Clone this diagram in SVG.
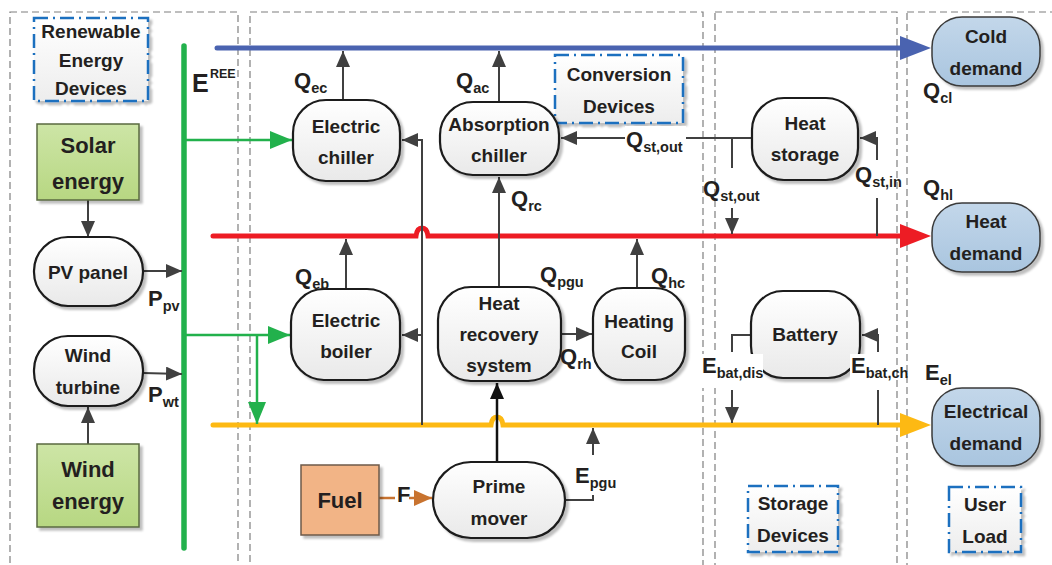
<svg xmlns="http://www.w3.org/2000/svg" width="1052" height="565" viewBox="0 0 1052 565">
<defs>
<linearGradient id="gNode" x1="0" y1="0" x2="0" y2="1"><stop offset="0" stop-color="#ffffff"/><stop offset="1" stop-color="#e9e9e9"/></linearGradient>
<linearGradient id="gDem" x1="0" y1="0" x2="0" y2="1"><stop offset="0" stop-color="#c3d7ea"/><stop offset="1" stop-color="#a9c5df"/></linearGradient>
<linearGradient id="gGreen" x1="0" y1="0" x2="0" y2="1"><stop offset="0" stop-color="#cde5a6"/><stop offset="1" stop-color="#b7d782"/></linearGradient>
<linearGradient id="gLbl" x1="0" y1="0" x2="0" y2="1"><stop offset="0" stop-color="#ffffff"/><stop offset="1" stop-color="#ededed"/></linearGradient>
<filter id="sh" x="-10%" y="-10%" width="130%" height="130%"><feDropShadow dx="3" dy="3" stdDeviation="1.2" flood-color="#000" flood-opacity="0.25"/></filter>
<marker id="aG" markerUnits="userSpaceOnUse" markerWidth="16" markerHeight="14" refX="16" refY="7" orient="auto"><path d="M0,0 L16,7 L0,14 z" fill="#404040"/></marker>
<marker id="aK" markerUnits="userSpaceOnUse" markerWidth="16" markerHeight="14" refX="16" refY="7" orient="auto"><path d="M0,0 L16,7 L0,14 z" fill="#111"/></marker>
<marker id="aGr" markerUnits="userSpaceOnUse" markerWidth="22" markerHeight="18" refX="22" refY="9" orient="auto"><path d="M0,0 L22,9 L0,18 z" fill="#22b14c"/></marker>
<marker id="aO" markerUnits="userSpaceOnUse" markerWidth="18" markerHeight="16" refX="18" refY="8" orient="auto"><path d="M0,0 L18,8 L0,16 z" fill="#c8732f"/></marker>
</defs>
<style>
.reg{fill:none;stroke:#7f7f7f;stroke-width:1.2;stroke-dasharray:7 4}
.lb{fill:url(#gLbl);stroke:#1f6fbf;stroke-width:2.5;stroke-dasharray:14 5 2 5;filter:url(#sh)}
.nd{fill:url(#gNode);stroke:#1a1a1a;stroke-width:2.2;filter:url(#sh)}
.dm{fill:url(#gDem);stroke:#3a3a3a;stroke-width:1.5;filter:url(#sh)}
.gb{fill:url(#gGreen);stroke:#5a6a40;stroke-width:1.5;filter:url(#sh)}
.fu{fill:#f2b486;stroke:#6d5a4a;stroke-width:1.5;filter:url(#sh)}
.wb{fill:#ffffff}
text{font-family:"Liberation Sans",Arial,sans-serif;font-weight:bold;fill:#231f20}
.t{font-size:19px;text-anchor:middle}
.tb{font-size:22px;text-anchor:middle}
.q{font-size:22px}
.s{font-size:14.5px}
.ln{fill:none;stroke:#404040;stroke-width:2}
.gl{fill:none;stroke:#22b14c;stroke-width:2.5}
</style>

<g id="regions">
<rect class="reg" x="10" y="12" width="228" height="570"/>
<rect class="reg" x="250" y="12" width="453" height="570"/>
<rect class="reg" x="715" y="12" width="182" height="570"/>
<rect class="reg" x="907" y="12" width="160" height="570"/>
</g>

<g id="lbl-renewable"><rect class="lb" x="34" y="18" width="114" height="83"/><text class="t" x="91" y="38">Renewable</text><text class="t" x="91" y="67">Energy</text><text class="t" x="91" y="95">Devices</text></g>
<g id="lbl-conversion"><rect class="lb" x="555" y="55" width="128" height="68"/><text class="t" x="619" y="81">Conversion</text><text class="t" x="619" y="113">Devices</text></g>
<g id="lbl-storage"><rect class="lb" x="748" y="486" width="90" height="66"/><text class="t" x="793" y="510">Storage</text><text class="t" x="793" y="542">Devices</text></g>
<g id="lbl-user"><rect class="lb" x="949" y="487" width="72" height="65"/><text class="t" x="985" y="511">User</text><text class="t" x="985" y="543">Load</text></g>

<g id="connectors">
<line x1="184" y1="46" x2="184" y2="548" stroke="#22b14c" stroke-width="5.5" stroke-linecap="round"/>
<line x1="217" y1="48" x2="902" y2="48" stroke="#4a63b0" stroke-width="5" stroke-linecap="round"/>
<polygon points="900,36 931,48 900,60" fill="#4a63b0"/>
<path d="M213,236 L416,236 Q417,228 422,228 Q427,228 428,236 L902,236" fill="none" stroke="#ed1c24" stroke-width="5" stroke-linecap="round"/>
<polygon points="900,224 931,236 900,248" fill="#ed1c24"/>
<path d="M213,425 L491,425 Q492,417 497,417 Q502,417 503,425 L902,425" fill="none" stroke="#fdb913" stroke-width="5" stroke-linecap="round"/>
<polygon points="900,413 931,425 900,437" fill="#fdb913"/>
<line class="gl" x1="186" y1="140" x2="292" y2="140" marker-end="url(#aGr)"/>
<line class="gl" x1="186" y1="335" x2="290" y2="335" marker-end="url(#aGr)"/>
<line class="gl" x1="257" y1="335" x2="257" y2="424" marker-end="url(#aGr)"/>
<line class="ln" x1="88" y1="200" x2="88" y2="237" marker-end="url(#aG)"/>
<line class="ln" x1="88" y1="444" x2="88" y2="407" marker-end="url(#aG)"/>
<line class="ln" x1="143" y1="271" x2="182" y2="271" marker-end="url(#aG)"/>
<line class="ln" x1="143" y1="373" x2="182" y2="374" marker-end="url(#aG)"/>
<line class="ln" x1="343" y1="100" x2="343" y2="51" marker-end="url(#aG)"/>
<line class="ln" x1="499" y1="102" x2="499" y2="51" marker-end="url(#aG)"/>
<path class="ln" d="M422,425 L422,140 L402,140" marker-end="url(#aG)"/>
<line class="ln" x1="422" y1="335" x2="402" y2="335" marker-end="url(#aG)"/>
<line class="ln" x1="499" y1="288" x2="499" y2="177" marker-end="url(#aG)"/>
<line class="ln" x1="561" y1="334" x2="592" y2="334" marker-end="url(#aG)"/>
<line class="ln" x1="637" y1="288" x2="637" y2="239" marker-end="url(#aG)"/>
<line class="ln" x1="346" y1="289" x2="346" y2="239" marker-end="url(#aG)"/>
<line x1="497" y1="462" x2="497" y2="383" stroke="#111" stroke-width="2.5" marker-end="url(#aK)"/>
<line x1="379" y1="498" x2="395" y2="498" stroke="#c8732f" stroke-width="2.5"/>
<line x1="409" y1="498" x2="432" y2="498" stroke="#c8732f" stroke-width="2.5" marker-end="url(#aO)"/>
<path class="ln" d="M565,500 L593,500 L593,495"/>
<line class="ln" x1="593" y1="455" x2="593" y2="428" marker-end="url(#aG)"/>
<line class="ln" x1="752" y1="138" x2="686" y2="138"/>
<line class="ln" x1="625" y1="138" x2="561" y2="138" marker-end="url(#aG)"/>
<line class="ln" x1="732" y1="138" x2="732" y2="168"/>
<line class="ln" x1="732" y1="208" x2="732" y2="234" marker-end="url(#aG)"/>
<line class="ln" x1="877" y1="236" x2="877" y2="198"/>
<path class="ln" d="M877,160 L877,138 L860,138" marker-end="url(#aG)"/>
<path class="ln" d="M751,335 L732,335 L732,352"/>
<line class="ln" x1="732" y1="390" x2="732" y2="423" marker-end="url(#aG)"/>
<line class="ln" x1="878" y1="425" x2="878" y2="390"/>
<path class="ln" d="M878,352 L878,335 L862,335" marker-end="url(#aG)"/>
</g>

<g id="solar"><rect class="gb" x="37" y="124" width="102" height="76"/><text class="tb" x="88" y="153">Solar</text><text class="tb" x="88" y="189">energy</text></g>
<g id="pv"><rect class="nd" x="34" y="237" width="109" height="69" rx="34"/><text class="t" x="88" y="279">PV panel</text></g>
<g id="wt"><rect class="nd" x="34" y="336" width="109" height="70" rx="34"/><text class="t" x="88" y="362">Wind</text><text class="t" x="88" y="394">turbine</text></g>
<g id="wind"><rect class="gb" x="37" y="444" width="102" height="83"/><text class="tb" x="88" y="477">Wind</text><text class="tb" x="88" y="509">energy</text></g>

<g id="echiller"><rect class="nd" x="293" y="100" width="107" height="81" rx="33"/><text class="t" x="346" y="133">Electric</text><text class="t" x="346" y="164">chiller</text></g>
<g id="achiller"><rect class="nd" x="440" y="102" width="119" height="73" rx="33"/><text class="t" x="499" y="131">Absorption</text><text class="t" x="499" y="162">chiller</text></g>
<g id="eboiler"><rect class="nd" x="291" y="289" width="109" height="91" rx="33"/><text class="t" x="346" y="327">Electric</text><text class="t" x="346" y="358">boiler</text></g>
<g id="hrs"><rect class="nd" x="438" y="287" width="123" height="94" rx="33"/><text class="t" x="499" y="310">Heat</text><text class="t" x="499" y="341">recovery</text><text class="t" x="499" y="372">system</text></g>
<g id="hcoil"><rect class="nd" x="593" y="288" width="92" height="92" rx="30"/><text class="t" x="639" y="328">Heating</text><text class="t" x="639" y="358">Coil</text></g>
<g id="fuel"><rect class="fu" x="301" y="465" width="78" height="70"/><text class="tb" x="340" y="508">Fuel</text></g>
<g id="prime"><rect class="nd" x="433" y="462" width="132" height="76" rx="38"/><text class="t" x="499" y="493">Prime</text><text class="t" x="499" y="525">mover</text></g>

<g id="hstorage"><rect class="nd" x="752" y="98" width="106" height="82" rx="32"/><text class="t" x="805" y="130">Heat</text><text class="t" x="805" y="161">storage</text></g>
<g id="battery"><rect class="nd" x="751" y="291" width="109" height="87" rx="32"/><text class="t" x="805" y="341">Battery</text></g>

<g id="cold"><rect class="dm" x="932" y="17" width="108" height="69" rx="30"/><text class="t" x="986" y="43">Cold</text><text class="t" x="986" y="75">demand</text></g>
<g id="heat"><rect class="dm" x="932" y="203" width="108" height="69" rx="30"/><text class="t" x="986" y="228">Heat</text><text class="t" x="986" y="260">demand</text></g>
<g id="elec"><rect class="dm" x="932" y="388" width="108" height="78" rx="30"/><text class="t" x="986" y="418">Electrical</text><text class="t" x="986" y="450">demand</text></g>

<g id="flow-labels">
<rect class="wb" x="625" y="126" width="61" height="30"/>
<rect class="wb" x="700" y="354" width="63" height="34"/>
<rect class="wb" x="850" y="354" width="46" height="34"/>
<text x="192" y="92" style="font-size:25px">E</text><text x="210" y="78" style="font-size:12.5px">REE</text>
<text x="148" y="306" class="q">P<tspan class="s" dy="5">pv</tspan></text>
<text x="148" y="402" class="q">P<tspan class="s" dy="5">wt</tspan></text>
<text x="294" y="88" class="q">Q<tspan class="s" dy="5">ec</tspan></text>
<text x="456" y="88" class="q">Q<tspan class="s" dy="5">ac</tspan></text>
<text x="511" y="206" class="q">Q<tspan class="s" dy="5">rc</tspan></text>
<text x="295" y="284" class="q">Q<tspan class="s" dy="5">eb</tspan></text>
<text x="540" y="282" class="q">Q<tspan class="s" dy="5">pgu</tspan></text>
<text x="651" y="283" class="q">Q<tspan class="s" dy="5">hc</tspan></text>
<text x="560" y="364" class="q">Q<tspan class="s" dy="5">rh</tspan></text>
<text x="626" y="147" class="q">Q<tspan class="s" dy="5">st,out</tspan></text>
<text x="703" y="196" class="q">Q<tspan class="s" dy="5">st,out</tspan></text>
<text x="855" y="182" class="q">Q<tspan class="s" dy="5">st,in</tspan></text>
<text x="923" y="98" class="q">Q<tspan class="s" dy="5">cl</tspan></text>
<text x="923" y="195" class="q">Q<tspan class="s" dy="5">hl</tspan></text>
<text x="925" y="380" class="q">E<tspan class="s" dy="5">el</tspan></text>
<text x="702" y="373" class="q">E<tspan class="s" dy="5">bat,dis</tspan></text>
<text x="851" y="373" class="q">E<tspan class="s" dy="5">bat,ch</tspan></text>
<text x="575" y="483" class="q">E<tspan class="s" dy="5">pgu</tspan></text>
<text x="397" y="502" class="q">F</text>
</g>
</svg>
